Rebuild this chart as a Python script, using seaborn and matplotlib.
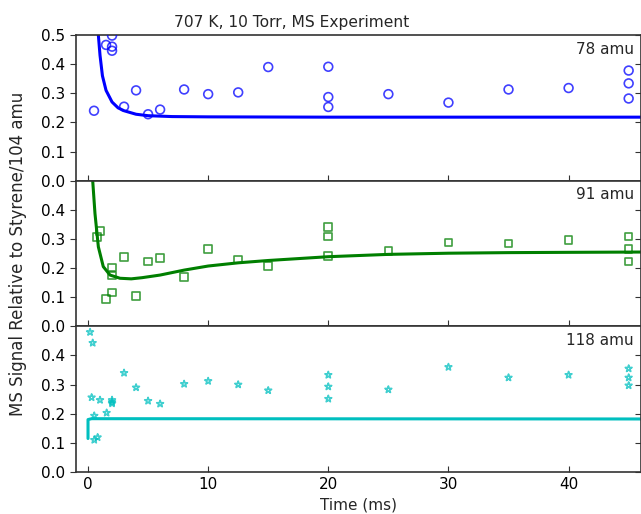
import matplotlib
matplotlib.use("Agg")
import matplotlib.pyplot as plt
import seaborn as sns
import pandas as pd

# ---- data ----
t78 = [0.5, 1.5, 2, 2, 2, 3, 4, 5, 6, 8, 10, 12.5, 15, 20, 20, 20, 25, 30, 35, 40, 45, 45, 45]
y78 = [0.240, 0.466, 0.498, 0.460, 0.446, 0.254, 0.310, 0.228, 0.244, 0.313, 0.297, 0.303,
       0.390, 0.391, 0.287, 0.253, 0.297, 0.268, 0.313, 0.318, 0.378, 0.334, 0.282]

t91 = [0.75, 1.0, 1.5, 2, 2, 2, 3, 4, 5, 6, 8, 10, 12.5, 15, 20, 20, 20, 25, 30, 35, 40, 45, 45, 45]
y91 = [0.307, 0.327, 0.094, 0.202, 0.174, 0.116, 0.238, 0.104, 0.223, 0.234, 0.169, 0.266,
       0.230, 0.207, 0.341, 0.309, 0.241, 0.259, 0.288, 0.284, 0.297, 0.309, 0.266, 0.223]

t118 = [0.17, 0.39, 0.3, 1.0, 0.52, 1.55, 0.52, 0.8, 2, 2, 2, 3, 4, 5, 6, 8, 10, 12.5, 15,
        20, 20, 20, 25, 30, 35, 40, 45, 45, 45]
y118 = [0.48, 0.443, 0.256, 0.247, 0.193, 0.203, 0.110, 0.119, 0.247, 0.240, 0.235, 0.340,
        0.290, 0.244, 0.234, 0.302, 0.312, 0.300, 0.280, 0.333, 0.293, 0.251, 0.283, 0.360,
        0.324, 0.333, 0.355, 0.324, 0.297]

fit78_t = [0.6, 0.75, 0.86, 1.0, 1.2, 1.5, 2.0, 2.5, 3.0, 4.0, 5.0, 7.0, 10, 20, 46]
fit78_y = [0.80, 0.59, 0.50, 0.43, 0.36, 0.31, 0.27, 0.25, 0.24, 0.228, 0.223, 0.220, 0.219, 0.218, 0.218]

fit91_t = [0.3, 0.39, 0.58, 0.86, 1.27, 1.83, 2.66, 3.6, 4.5, 6, 8, 10, 12.5, 15, 20, 25, 30, 35, 40, 46]
fit91_y = [0.62, 0.50, 0.387, 0.273, 0.205, 0.176, 0.165, 0.163, 0.167, 0.176, 0.193, 0.207,
           0.218, 0.226, 0.239, 0.247, 0.251, 0.253, 0.254, 0.255]

fit118_t = [0, 0, 0.3, 46]
fit118_y = [0.115, 0.180, 0.183, 0.182]

labels = ["78 amu", "91 amu", "118 amu"]
colors = ["#0000ff", "#007f00", "#00bfbf"]
markers = ["o", "s", "*"]
sizes = [40, 30, 26]
xticks = [0, 10, 20, 30, 40]

sns.set_style("white")
plt.rcParams["font.family"] = ["DejaVu Sans"]

fig, axes = plt.subplots(3, 1, sharex=True, figsize=(6.41, 5.14), dpi=100)
fig.subplots_adjust(left=76 / 641, right=0.9995, top=1 - 35 / 514, bottom=1 - 472 / 514, hspace=0)

series = [(t78, y78, fit78_t, fit78_y), (t91, y91, fit91_t, fit91_y), (t118, y118, fit118_t, fit118_y)]

for i, (ax, (ts, ys, ft, fy)) in enumerate(zip(axes, series)):
    pts = pd.DataFrame({"t": ts, "y": ys})
    fit = pd.DataFrame({"t": ft, "y": fy})
    sns.lineplot(data=fit, x="t", y="y", estimator=None, sort=False, color=colors[i],
                 lw=2.2, ax=ax, zorder=2)
    sns.scatterplot(data=pts, x="t", y="y", marker=markers[i], s=sizes[i],
                    facecolors="none", edgecolor=colors[i], linewidth=1.2, alpha=0.75,
                    ax=ax, zorder=3)
    ax.set_xlim(-1, 46)
    ax.set_ylim(0, 0.5)
    yt = [0.0, 0.1, 0.2, 0.3, 0.4, 0.5] if i == 0 else [0.0, 0.1, 0.2, 0.3, 0.4]
    ax.set_yticks(yt)
    ax.set_xticks(xticks)
    ax.set_xlabel("")
    ax.set_ylabel("")
    for sp in ax.spines.values():
        sp.set_color("#333333")
        sp.set_linewidth(1.2)
    ax.tick_params(axis="y", which="both", left=True, right=False, direction="out",
                   length=4, labelsize=11, colors="#333333", labelcolor="black")
    ax.tick_params(axis="x", which="both", bottom=True, top=False, direction="in",
                   length=4, labelsize=11, colors="#333333", labelcolor="black")
    sec = ax.secondary_yaxis("right")
    sec.set_yticks(yt)
    sec.tick_params(direction="in", length=4, labelright=False, colors="#333333")
    sec.spines["right"].set_color("#333333")
    ax.text(0.988, 0.955, labels[i], transform=ax.transAxes, ha="right", va="top", fontsize=11)

axes[0].set_title("707 K, 10 Torr, MS Experiment", fontsize=11.2, x=0.382)
axes[1].set_ylabel("MS Signal Relative to Styrene/104 amu", fontsize=12, labelpad=10)
axes[2].set_xlabel("Time (ms)", fontsize=11)

fig.savefig("out.png", dpi=100)
